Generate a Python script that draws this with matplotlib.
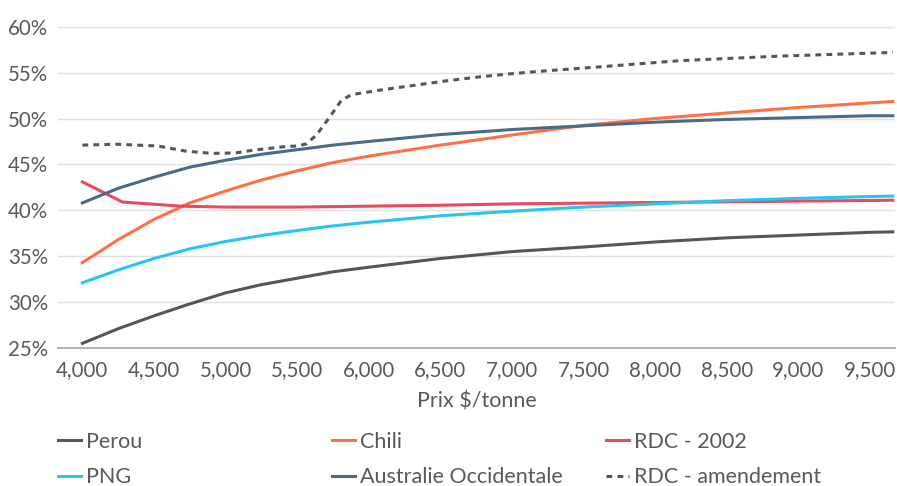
import matplotlib
matplotlib.use("Agg")
import matplotlib.pyplot as plt
from matplotlib.ticker import FuncFormatter, FixedLocator

# Données (taux effectif, %)
prix = [4000, 4250, 4500, 4750, 5000, 5250, 5500, 5750, 6000, 6500, 7000, 7500,
        8000, 8500, 9000, 9500, 9660]
perou = [25.5, 27.1, 28.5, 29.8, 31.0, 31.9, 32.6, 33.3, 33.8, 34.75, 35.5, 36.0,
         36.55, 37.0, 37.3, 37.6, 37.65]
chili = [34.3, 36.8, 39.0, 40.8, 42.1, 43.3, 44.3, 45.2, 45.9, 47.1, 48.2, 49.25,
         50.0, 50.6, 51.2, 51.7, 51.85]
png = [32.1, 33.5, 34.75, 35.8, 36.6, 37.25, 37.8, 38.3, 38.7, 39.4, 39.9, 40.35,
       40.7, 41.05, 41.3, 41.5, 41.55]
australie = [40.8, 42.4, 43.6, 44.7, 45.45, 46.1, 46.6, 47.1, 47.5, 48.25, 48.8, 49.2,
             49.6, 49.9, 50.1, 50.3, 50.3]

prix_rdc = [4000, 4280, 4690, 5000, 5500, 6000, 6500, 7000, 7500, 8000, 8500, 9000,
            9500, 9660]
rdc_2002 = [43.1, 40.9, 40.45, 40.35, 40.35, 40.45, 40.55, 40.7, 40.78, 40.85, 40.92,
            41.0, 41.07, 41.1]

prix_amend = [4000, 4240, 4530, 4720, 4905, 5070, 5195, 5420, 5500, 5567, 5637, 5720,
              5810, 5880, 6080, 6310, 6540, 6780, 7010, 7240, 7590, 8170, 8870, 9660]
rdc_amend = [47.1, 47.2, 47.0, 46.45, 46.2, 46.25, 46.55, 46.95, 47.0, 47.25, 48.25,
             50.0, 52.0, 52.6, 53.1, 53.6, 54.1, 54.55, 54.9, 55.2, 55.6, 56.3, 56.8,
             57.2]

x_ticks = [4000, 4500, 5000, 5500, 6000, 6500, 7000, 7500, 8000, 8500, 9000, 9500]
y_ticks = [25, 30, 35, 40, 45, 50, 55, 60]

plt.rcParams['font.family'] = ['Lato', 'DejaVu Sans']
txt = '#595959'
fs_tick = 14.8
fs_leg = 15.5

fig = plt.figure(figsize=(8.97, 4.86), dpi=100)
ax = fig.add_axes([0.0647, 0.284, 0.933, 0.661])

lw = 2.2
l_perou, = ax.plot(prix, perou, color='#54565b', lw=lw, label='Perou')
l_chili, = ax.plot(prix, chili, color='#ff7043', lw=lw, label='Chili')
l_rdc, = ax.plot(prix_rdc, rdc_2002, color='#e84a5f', lw=lw, label='RDC - 2002')
l_png, = ax.plot(prix, png, color='#2bc4f0', lw=lw, label='PNG')
l_aus, = ax.plot(prix, australie, color='#4a6a85', lw=lw, label='Australie Occidentale')
l_am, = ax.plot(prix_amend, rdc_amend, color='#54565b', lw=lw, ls=(0, (1.9, 1.7)),
                label='RDC - amendement')

ax.set_xlim(3830, 9675)
ax.set_ylim(25, 60)
ax.xaxis.set_major_locator(FixedLocator(x_ticks))
ax.yaxis.set_major_locator(FixedLocator(y_ticks))
ax.xaxis.set_major_formatter(FuncFormatter(lambda v, p: f'{int(v):,}'))
ax.yaxis.set_major_formatter(FuncFormatter(lambda v, p: f'{int(v)}%'))
ax.tick_params(length=0, labelsize=fs_tick, labelcolor=txt)
ax.tick_params(axis='x', pad=9)
ax.tick_params(axis='y', pad=7)

ax.grid(axis='y', color='#e0e0e0', lw=1)
ax.set_axisbelow(True)
for s in ['top', 'right', 'left']:
    ax.spines[s].set_visible(False)
ax.spines['bottom'].set_color('#a6a6a6')
ax.spines['bottom'].set_linewidth(1.3)
ax.spines['bottom'].set_zorder(0.5)

ax.set_xlabel('Prix $/tonne', fontsize=fs_leg, color=txt, labelpad=8)

# légende en trois colonnes
cols = [([l_perou, l_png], 58), ([l_chili, l_aus], 332), ([l_rdc, l_am], 606)]
for handles, xpix in cols:
    leg = fig.legend(handles=handles, loc='upper left',
                     bbox_to_anchor=(xpix / 897, 1 - 432 / 486),
                     frameon=False, fontsize=fs_leg, handlelength=1.05,
                     handletextpad=0.25, labelspacing=0.7, borderpad=0,
                     borderaxespad=0)
    for t in leg.get_texts():
        t.set_color(txt)

fig.savefig('out.png', dpi=100)
